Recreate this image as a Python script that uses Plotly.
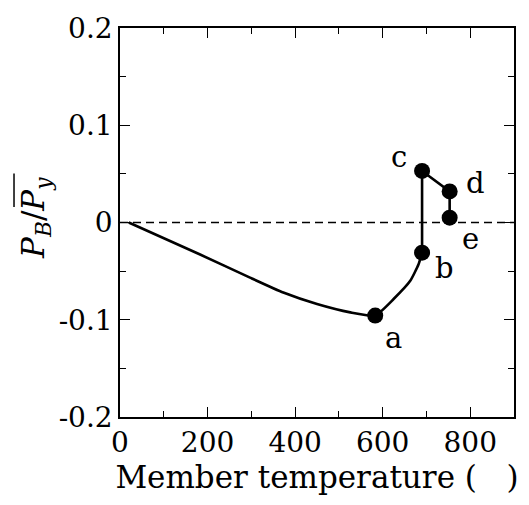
import plotly.graph_objects as go

# Heating path of the member: temperature (deg C) vs. axial force ratio
path_temp = [20, 183, 297, 373, 450, 526, 583, 625, 663, 682, 690]
path_ratio = [0.0, -0.0329, -0.0567, -0.072, -0.0838, -0.0924, -0.0957,
              -0.0787, -0.060, -0.043, -0.031]

# Straight segments after point b
step_temp = [690, 690, 753, 753]
step_ratio = [-0.031, 0.053, 0.032, 0.005]

# Labelled states
state_names = ["a", "b", "c", "d", "e"]
state_temp = [583, 690, 690, 753, 753]
state_ratio = [-0.0957, -0.031, 0.053, 0.032, 0.005]
# label offsets in pixels (dx, dy)
state_offsets = [(18, -22), (22, -15), (-23, 14), (26, 8), (21, -21)]

x_ticks = [0, 200, 400, 600, 800]
y_ticks = [-0.2, -0.1, 0, 0.1, 0.2]
y_tick_text = ["-0.2", "-0.1", "0", "0.1", "0.2"]

FONT = "DejaVu Serif"

fig = go.Figure()

# zero reference line
fig.add_trace(go.Scatter(x=[0, 900], y=[0, 0], mode="lines",
                         line=dict(color="black", width=1.3, dash="8px,5px"),
                         hoverinfo="skip"))

fig.add_trace(go.Scatter(x=path_temp, y=path_ratio, mode="lines",
                         line=dict(color="black", width=2.6, shape="spline", smoothing=0.5)))
fig.add_trace(go.Scatter(x=step_temp, y=step_ratio, mode="lines",
                         line=dict(color="black", width=2.6)))
fig.add_trace(go.Scatter(x=state_temp, y=state_ratio, mode="markers",
                         marker=dict(color="black", size=16)))

for name, t, r, (dx, dy) in zip(state_names, state_temp, state_ratio, state_offsets):
    fig.add_annotation(x=t, y=r, xref="x", yref="y", text=name, showarrow=False,
                       xshift=dx, yshift=dy,
                       font=dict(family=FONT, size=29, color="black"))

# y-axis title with overline drawn over P_y
fig.add_annotation(text="<i>P</i><sub><i>B</i></sub>/<i>P</i><sub><i>y</i></sub>",
                   xref="paper", yref="paper", x=-0.213, y=0.512,
                   xanchor="center", yanchor="middle", textangle=-90, showarrow=False,
                   font=dict(family=FONT, size=31, color="black"))
fig.add_shape(type="line", xref="paper", yref="paper",
              x0=-0.2690, x1=-0.2690, y0=0.540, y1=0.626,
              line=dict(color="black", width=1.5))

axis_common = dict(
    showline=True, linecolor="black", linewidth=1.5, mirror="allticks",
    ticks="inside", ticklen=10, tickwidth=1.3, tickcolor="black",
    showgrid=False, zeroline=False,
    tickfont=dict(family=FONT, size=28, color="black"),
)

fig.update_xaxes(range=[0, 900], tickvals=x_ticks,
                 minor=dict(dtick=100, tick0=0, ticks="inside", ticklen=6,
                            tickwidth=1.3, tickcolor="black", showgrid=False),
                 title=dict(text="Member temperature (   )", standoff=4,
                            font=dict(family=FONT, size=31, color="black")),
                 **axis_common)
fig.update_yaxes(range=[-0.2, 0.2], tickvals=y_ticks, ticktext=y_tick_text,
                 minor=dict(dtick=0.05, tick0=0, ticks="inside", ticklen=6,
                            tickwidth=1.3, tickcolor="black", showgrid=False),
                 **axis_common)

fig.update_layout(width=529, height=505, showlegend=False,
                  margin=dict(l=120, r=15, t=24, b=88),
                  plot_bgcolor="white", paper_bgcolor="white")

fig.write_html("out.html")
